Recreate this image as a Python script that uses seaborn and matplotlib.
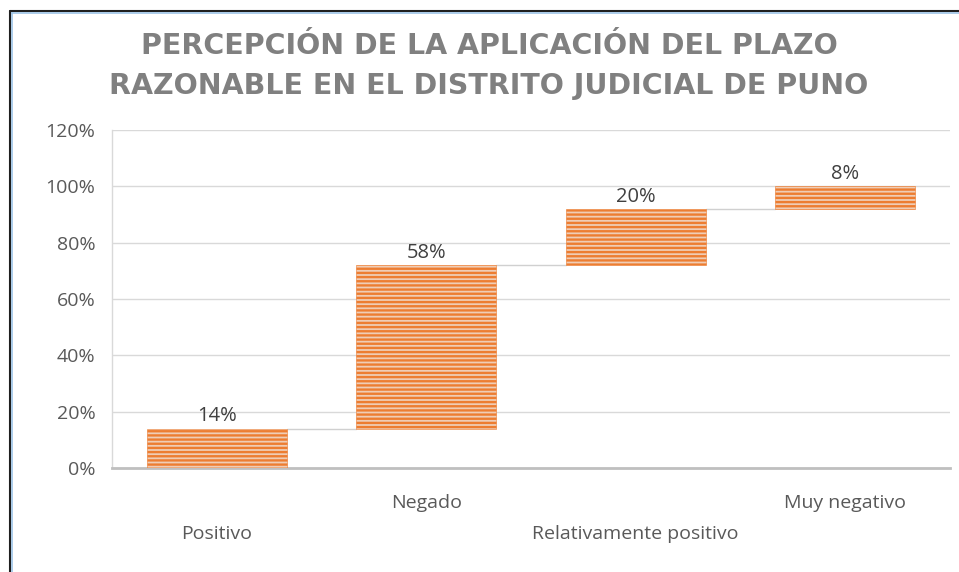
import numpy as np
import pandas as pd
import seaborn as sns
import matplotlib
matplotlib.use("Agg")
import matplotlib.pyplot as plt
from matplotlib.lines import Line2D

# data
categories = ["Positivo", "Negado", "Relativamente positivo", "Muy negativo"]
values = [14, 58, 20, 8]
title_lines = ["PERCEPCIÓN DE LA APLICACIÓN DEL PLAZO",
               "RAZONABLE EN EL DISTRITO JUDICIAL DE PUNO"]
yticks = [0, 20, 40, 60, 80, 100, 120]

# waterfall: each bar starts where the previous one ended
tops = np.cumsum(values)
bottoms = tops - np.array(values)
df = pd.DataFrame({"cat": categories, "val": values, "bottom": bottoms})

sns.set_theme(style="white")
plt.rcParams["font.family"] = ["Open Sans", "DejaVu Sans"]
plt.rcParams["hatch.linewidth"] = 1.7
plt.rcParams["hatch.color"] = "#ED7D31"

fig = plt.figure(figsize=(9.59, 5.72), dpi=100)
ax = fig.add_axes([112 / 959, 1 - 468 / 572, 838 / 959, 338 / 572])

ax.set_axisbelow(True)
ax.grid(axis="y", color="#D9D9D9", linewidth=1)

sns.barplot(data=df, x="cat", y="val", bottom=df["bottom"], ax=ax,
            color="#F8CBAD", width=0.667, hatch="----",
            edgecolor="#ED7D31", linewidth=0.4, zorder=3)

# connector lines between bars
for i in range(len(values) - 1):
    ax.plot([i + 0.333, i + 1 - 0.333], [tops[i], tops[i]],
            color="#D0D0D0", linewidth=1, zorder=2)

# data labels
for i, v in enumerate(values):
    ax.text(i, tops[i] + 0.8, f"{v}%", ha="center", va="bottom",
            fontsize=14.5, color="#404040")

ax.set_ylim(0, 120)
ax.set_xlim(-0.5, 3.5)
ax.set_yticks(yticks)
ax.set_yticklabels([f"{t}%" for t in yticks], fontsize=14, color="#595959")
ax.tick_params(axis="y", length=0, pad=12)
ax.tick_params(axis="x", length=0, labelsize=14, labelcolor="#595959")
ax.set_xlabel("")
ax.set_ylabel("")

# staggered category labels
for i, tick in enumerate(ax.xaxis.get_major_ticks()):
    tick.set_pad(19 if i % 2 == 1 else 41)

for s in ["top", "right"]:
    ax.spines[s].set_visible(False)
ax.spines["left"].set_color("#D9D9D9")
ax.spines["left"].set_linewidth(1)
ax.spines["bottom"].set_color("#BFBFBF")
ax.spines["bottom"].set_linewidth(2)

# title
for k, line in enumerate(title_lines):
    fig.text(489 / 959, 1 - (46 + 40 * k) / 572, line, ha="center", va="center",
             fontsize=20.5, fontweight="bold", color="#808080",
             family=["DejaVu Sans"])

# window frame
fig.add_artist(Line2D([10 / 959, 1], [1 - 11 / 572, 1 - 11 / 572],
                      color="#1F1F1F", linewidth=1.5))
fig.add_artist(Line2D([10 / 959, 1], [1 - 13 / 572, 1 - 13 / 572],
                      color="#9DC3E6", linewidth=1.2))
fig.add_artist(Line2D([10 / 959, 10 / 959], [0, 1 - 11 / 572],
                      color="#1F1F1F", linewidth=1.5))
fig.add_artist(Line2D([12 / 959, 12 / 959], [0, 1 - 13 / 572],
                      color="#9DC3E6", linewidth=1.2))

fig.savefig("out.png", dpi=100)
